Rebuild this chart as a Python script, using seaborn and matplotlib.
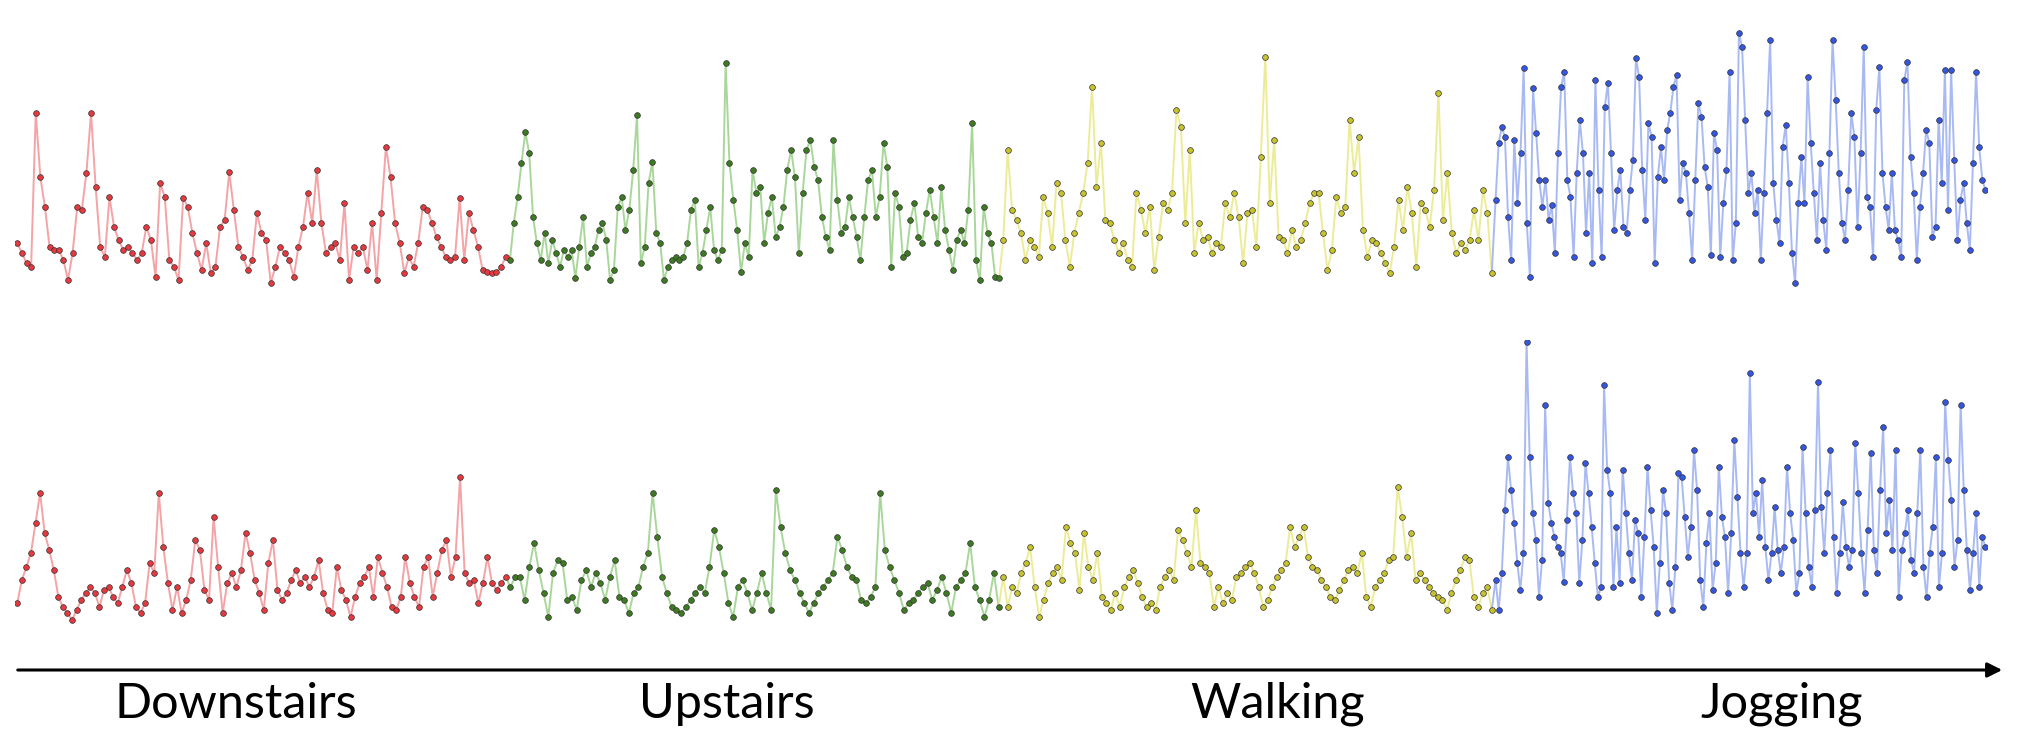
import numpy as np
import pandas as pd
import matplotlib
matplotlib.use("Agg")
import matplotlib.pyplot as plt
import seaborn as sns

activities = ["Downstairs", "Upstairs", "Walking", "Jogging"]

# Acceleration magnitude traces, first sensor (top row)
top_downstairs = [5.7, 4.7, 3.7, 3.3, 18.7, 12.3, 9.3, 5.3, 5.0, 5.0, 4.0, 2.0, 4.7, 9.3, 9.0, 12.7, 18.7, 11.3,
                  5.3, 4.3, 10.3, 7.3, 6.0, 5.0, 5.3, 4.7, 4.0, 4.7, 7.3, 6.0, 2.3, 11.7, 10.3, 4.0, 3.3, 2.0,
                  10.2, 9.3, 6.7, 4.7, 3.0, 5.7, 2.7, 3.3, 7.3, 8.0, 12.8, 9.0, 5.3, 4.3, 3.0, 4.0, 8.7, 6.7,
                  6.0, 1.7, 3.3, 5.3, 4.7, 4.0, 2.3, 5.3, 7.3, 10.7, 7.7, 13.0, 7.7, 4.7, 5.3, 5.7, 4.0, 9.7,
                  2.0, 5.3, 4.7, 5.3, 3.0, 7.7, 2.0, 8.7, 15.3, 12.3, 7.7, 5.7, 2.7, 4.3, 3.3, 5.7, 9.3, 9.0,
                  7.7, 6.3, 5.3, 4.3, 4.0, 4.3, 10.2, 4.0, 8.7, 7.0, 5.3, 3.0, 2.8, 2.7, 2.8, 3.3, 4.3]
top_upstairs = [4.0, 7.7, 10.3, 13.7, 16.8, 14.7, 8.3, 5.7, 4.0, 6.7, 3.7, 6.0, 4.7, 3.3, 5.0, 4.3, 5.0, 2.2,
                5.3, 8.3, 3.3, 4.7, 5.3, 7.0, 7.7, 6.0, 2.0, 3.0, 9.3, 10.3, 7.0, 9.0, 13.0, 18.5, 3.7, 5.3,
                11.7, 13.8, 6.7, 5.7, 2.0, 3.3, 4.0, 4.3, 4.0, 4.3, 5.7, 9.0, 10.0, 3.3, 4.7, 7.0, 9.3, 5.0,
                4.0, 5.0, 23.7, 13.7, 10.0, 7.0, 2.8, 5.7, 4.3, 13.0, 10.7, 11.3, 5.7, 8.7, 10.3, 6.3, 7.3,
                9.3, 13.0, 15.0, 12.3, 4.7, 10.7, 15.0, 16.0, 13.3, 12.0, 8.3, 6.3, 5.0, 16.0, 10.0, 6.7,
                7.3, 10.3, 8.3, 6.3, 4.0, 8.3, 12.0, 13.0, 8.3, 10.3, 15.7, 13.3, 3.3, 10.7, 9.3, 4.3, 4.7,
                8.0, 9.7, 6.3, 5.7, 8.7, 11.0, 8.3, 5.7, 11.3, 7.0, 5.0, 3.0, 6.0, 7.0, 5.7, 9.0, 17.7, 4.0,
                2.0, 9.3, 6.7, 5.7, 2.3, 2.2]
top_walking = [6.0, 15.0, 9.0, 8.0, 6.7, 4.0, 6.0, 5.3, 4.3, 10.3, 8.7, 5.3, 11.7, 10.7, 6.0, 3.3, 6.7, 8.7,
               10.7, 13.7, 21.3, 11.3, 15.7, 8.0, 7.7, 6.0, 4.7, 5.7, 4.0, 3.3, 10.7, 9.0, 6.7, 9.3, 3.0,
               6.3, 9.7, 9.0, 10.7, 19.0, 17.3, 7.7, 15.0, 4.7, 7.7, 6.0, 6.3, 4.7, 5.7, 5.3, 9.7, 8.3, 10.7,
               8.3, 3.7, 8.7, 9.0, 5.3, 14.3, 24.3, 9.7, 16.0, 6.3, 6.0, 4.7, 7.0, 5.3, 6.0, 7.7, 9.7, 10.7,
               10.7, 6.7, 3.0, 5.0, 10.3, 8.7, 9.3, 18.0, 12.7, 16.3, 7.0, 4.3, 6.0, 5.7, 4.7, 3.7, 2.7, 5.3,
               10.0, 7.0, 11.3, 8.7, 3.3, 9.7, 9.0, 7.3, 11.0, 20.7, 8.0, 12.7, 6.7, 4.7, 5.7, 5.0, 6.0, 9.0,
               6.0, 11.0, 8.7, 2.7]
top_jogging = [10.0, 15.7, 17.3, 16.3, 8.3, 4.0, 16.0, 9.7, 14.7, 23.2, 7.7, 2.3, 21.2, 16.7, 12.0, 9.3, 12.0,
               8.0, 9.5, 4.7, 14.7, 21.3, 22.8, 12.0, 10.3, 4.3, 12.7, 18.0, 14.7, 6.7, 12.7, 3.7, 22.0, 11.0,
               4.3, 19.3, 21.7, 14.7, 7.0, 11.0, 13.0, 7.3, 6.7, 11.0, 14.0, 24.2, 22.3, 13.0, 8.0, 17.7, 16.3,
               3.7, 12.3, 15.3, 12.0, 17.0, 18.7, 21.3, 22.5, 10.0, 13.7, 12.7, 8.7, 4.0, 12.0, 19.7, 18.3,
               13.3, 11.3, 4.5, 16.7, 15.0, 4.3, 9.7, 13.0, 22.8, 4.0, 7.7, 26.7, 25.3, 18.0, 10.7, 12.7, 8.7,
               11.0, 4.0, 10.7, 18.7, 26.0, 11.7, 8.0, 5.7, 15.3, 17.5, 11.7, 4.7, 1.7, 9.7, 14.3, 9.7, 22.3,
               15.7, 10.7, 6.0, 13.7, 8.0, 5.0, 14.7, 26.0, 20.0, 12.7, 7.7, 6.0, 11.0, 18.7, 16.3, 7.3, 14.7,
               25.3, 10.3, 9.3, 4.3, 19.0, 23.3, 12.7, 9.3, 7.0, 12.7, 7.0, 6.0, 4.3, 22.0, 23.8, 14.3, 10.7,
               4.0, 9.3, 12.7, 17.0, 15.7, 6.3, 7.3, 18.0, 11.7, 23.0, 9.0, 23.0, 14.0, 6.0, 10.0, 11.7, 7.7,
               5.0, 13.7, 22.8, 15.3, 12.0, 11.0]

# Acceleration magnitude traces, second sensor (bottom row)
bottom_downstairs = [3.7, 6.0, 7.3, 8.7, 11.7, 14.7, 10.7, 9.0, 7.0, 4.3, 3.3, 2.7, 2.0, 3.0, 4.0, 4.7, 5.3,
                     4.7, 3.3, 5.0, 5.3, 4.3, 3.7, 5.3, 7.0, 5.7, 3.3, 2.7, 3.7, 7.7, 6.7, 14.7, 9.3, 5.7, 3.0,
                     5.3, 2.7, 4.0, 6.0, 10.0, 9.0, 5.0, 4.0, 12.3, 7.3, 2.7, 5.7, 6.7, 5.3, 7.0, 10.7, 8.7,
                     6.0, 4.7, 3.0, 7.7, 10.0, 5.0, 4.0, 4.7, 6.0, 7.0, 5.7, 6.3, 5.3, 6.3, 8.0, 4.7, 3.0, 2.7,
                     7.3, 5.0, 4.0, 2.3, 4.3, 5.7, 6.3, 7.3, 4.3, 8.3, 6.7, 5.3, 3.3, 3.0, 4.3, 8.3, 5.7, 4.3,
                     3.3, 7.3, 8.3, 4.3, 6.7, 9.0, 10.0, 6.3, 8.3, 16.3, 6.7, 5.7, 6.0, 3.7, 5.7, 8.3, 5.7, 5.0,
                     5.7, 6.3]
bottom_upstairs = [5.3, 6.3, 6.3, 4.0, 7.3, 9.7, 7.0, 4.7, 2.3, 6.7, 8.0, 7.7, 4.0, 4.3, 3.0, 6.0, 7.0, 5.3,
                   6.7, 5.7, 4.0, 6.3, 8.0, 4.3, 4.0, 2.7, 4.7, 5.3, 7.3, 8.7, 14.7, 10.3, 6.3, 4.7, 3.3, 3.0,
                   2.7, 3.3, 4.0, 4.7, 5.3, 4.7, 7.3, 11.0, 9.3, 6.7, 3.7, 2.3, 5.3, 6.0, 4.7, 3.0, 4.7, 6.7,
                   4.7, 3.0, 15.0, 11.3, 8.7, 7.0, 6.0, 4.7, 3.7, 2.7, 3.7, 4.7, 5.3, 6.0, 6.7, 10.3, 9.0,
                   7.3, 6.3, 6.0, 4.0, 3.7, 4.3, 5.3, 14.7, 9.0, 7.3, 6.0, 4.7, 3.0, 3.7, 4.0, 4.7, 5.3, 5.7,
                   4.0, 5.0, 6.3, 4.7, 2.7, 5.3, 6.0, 6.7, 9.7, 5.3, 4.0, 2.3, 4.0, 6.7, 3.3]
bottom_walking = [6.3, 3.3, 5.3, 4.7, 6.7, 7.7, 9.3, 5.3, 2.3, 4.0, 5.7, 6.7, 7.3, 6.0, 11.3, 9.7, 8.7, 5.0,
                  10.7, 7.3, 6.0, 8.7, 4.3, 3.7, 3.0, 4.7, 3.3, 5.3, 6.3, 7.0, 5.7, 4.3, 3.3, 3.7, 3.0, 5.3,
                  6.3, 7.0, 6.0, 11.0, 10.0, 8.7, 7.3, 13.0, 7.7, 7.3, 6.7, 3.3, 5.3, 3.7, 4.7, 4.0, 6.3, 6.7,
                  7.3, 7.7, 6.7, 5.3, 3.3, 4.0, 5.3, 6.3, 7.0, 7.7, 11.3, 9.3, 10.3, 11.3, 8.3, 7.3, 7.0, 6.0,
                  5.3, 4.3, 4.0, 5.0, 6.0, 7.0, 7.3, 6.7, 8.7, 4.3, 3.3, 5.3, 6.0, 6.7, 8.0, 8.3, 15.3, 12.3,
                  8.3, 10.7, 6.0, 6.7, 6.0, 5.3, 4.7, 4.3, 4.0, 3.0, 4.7, 6.0, 7.0, 8.3, 8.0, 4.3, 3.3, 4.7,
                  5.3, 3.0]
bottom_jogging = [6.0, 3.0, 6.7, 13.0, 18.3, 15.0, 11.7, 7.7, 5.0, 8.7, 29.8, 18.3, 12.7, 10.0, 4.3, 8.0, 23.5,
                  13.7, 11.7, 10.3, 9.3, 8.7, 5.8, 12.0, 18.3, 14.7, 12.7, 5.7, 10.0, 17.7, 14.7, 11.3, 7.7,
                  4.3, 5.3, 25.5, 17.0, 14.7, 5.3, 11.3, 5.7, 17.0, 12.7, 8.7, 6.0, 12.0, 10.7, 4.3, 10.3,
                  17.3, 13.0, 9.3, 2.7, 7.7, 15.0, 12.7, 5.7, 3.0, 7.3, 16.7, 16.3, 12.3, 8.3, 11.3, 19.0,
                  15.0, 6.0, 3.3, 9.7, 12.7, 5.0, 7.7, 17.3, 12.3, 10.3, 4.7, 10.7, 20.0, 14.3, 8.7, 5.3, 8.7,
                  26.7, 12.7, 14.7, 10.3, 16.0, 9.3, 6.0, 8.7, 13.3, 9.0, 6.7, 9.3, 17.3, 12.7, 10.0, 4.7,
                  6.7, 19.3, 12.7, 7.3, 5.3, 13.0, 25.8, 13.3, 8.7, 14.7, 19.0, 10.3, 4.7, 8.7, 13.8, 9.3,
                  7.3, 9.0, 19.7, 14.7, 8.7, 4.7, 11.0, 18.7, 9.0, 6.7, 15.0, 21.3, 10.7, 14.0, 9.0, 19.0,
                  4.3, 9.0, 10.7, 13.0, 8.0, 6.7, 12.7, 19.0, 7.3, 4.3, 8.7, 11.3, 18.3, 5.3, 8.7, 23.8, 18.0,
                  14.0, 7.3, 10.0, 23.5, 15.0, 9.0, 5.0, 8.7, 12.7, 5.3, 10.3, 9.3]

top_row = [top_downstairs, top_upstairs, top_walking, top_jogging]
bottom_row = [bottom_downstairs, bottom_upstairs, bottom_walking, bottom_jogging]

line_colors = ["#f4a3a6", "#a9d79a", "#ecec98", "#a9baf3"]
point_colors = ["#e5383f", "#3d7a22", "#c7c22e", "#3556e0"]

sns.set_style("white")
plt.rcParams["font.family"] = ["Lato", "DejaVu Sans"]

W, H = 2024, 729
fig = plt.figure(figsize=(W / 100, H / 100), dpi=100)
fig.patch.set_facecolor("white")

x0_px, seg_px = 15, 493
ax_left = x0_px / W
ax_width = 4 * seg_px / W
ax_top = fig.add_axes([ax_left, (H - 300) / H, ax_width, 300 / H])
ax_bot = fig.add_axes([ax_left, (H - 640) / H, ax_width, 300 / H])


def draw_row(ax, row):
    prev = None
    for k, values in enumerate(row):
        n = len(values)
        t = k + np.linspace(0.0, 1.0, n, endpoint=False) + 0.5 / n
        df = pd.DataFrame({"t": t, "acc": values})
        if prev is not None:
            line_df = pd.concat([prev, df], ignore_index=True)
        else:
            line_df = df
        sns.lineplot(data=line_df, x="t", y="acc", ax=ax, color=line_colors[k],
                     linewidth=1.4, sort=False, estimator=None)
        sns.scatterplot(data=df, x="t", y="acc", ax=ax, color=point_colors[k],
                        s=17, edgecolor="#333333", linewidth=0.5, zorder=3)
        prev = df.iloc[[-1]]
    ax.set_xlim(0, 4)
    ax.set_ylim(0, 30)
    ax.axis("off")


draw_row(ax_top, top_row)
draw_row(ax_bot, bottom_row)

# Time axis arrow
fig.add_artist(matplotlib.patches.FancyArrowPatch(
    (15 / W, (H - 670) / H), (2005 / W, (H - 670) / H),
    transform=fig.transFigure, arrowstyle="-|>", mutation_scale=22,
    linewidth=2.2, color="black"))

label_x = [236, 727, 1278, 1782]
for name, lx in zip(activities, label_x):
    fig.text(lx / W, (H - 704) / H, name, ha="center", va="center",
             fontsize=35, fontweight="normal", color="black")

fig.savefig("out.png", dpi=100, facecolor="white")
